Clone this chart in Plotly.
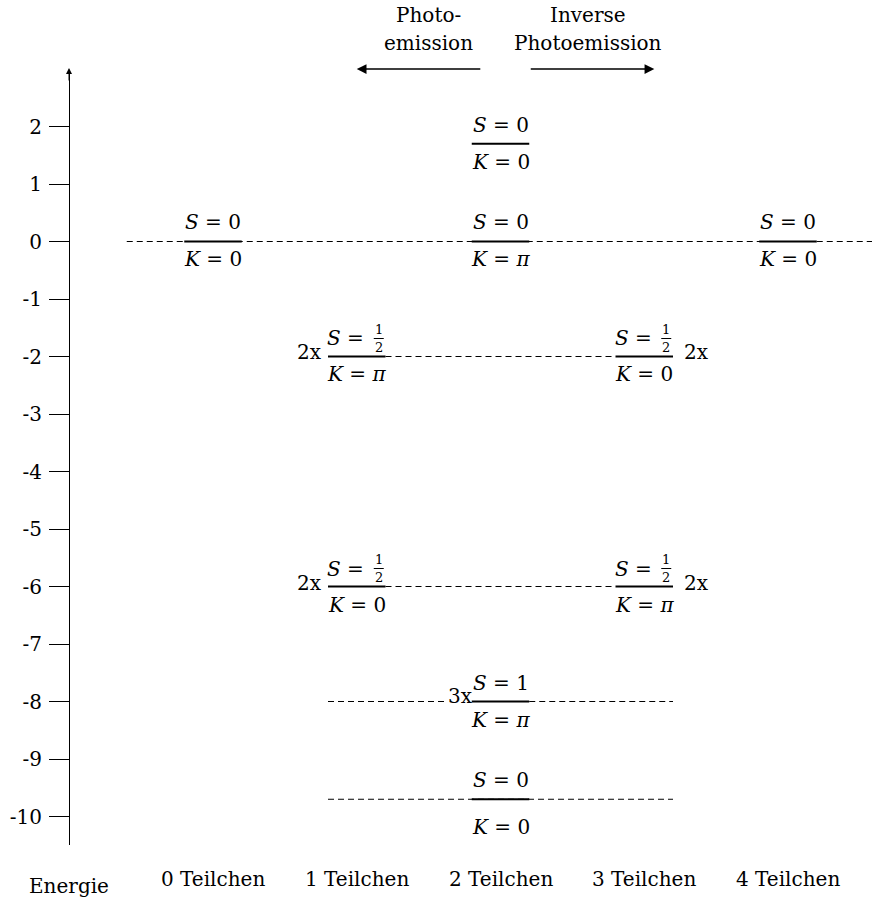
import plotly.graph_objects as go

# ---------------- data ----------------
particles = [0, 1, 2, 3, 4]
particle_labels = ["0 Teilchen", "1 Teilchen", "2 Teilchen", "3 Teilchen", "4 Teilchen"]

energy_ticks = [-10, -9, -8, -7, -6, -5, -4, -3, -2, -1, 0, 1, 2]
energy_ticktext = ["-10", "-9", "-8", "-7", "-6", "-5", "-4", "-3", "-2", "-1", "0", "1", "2"]

level_n = [0, 1, 1, 2, 2, 2, 2, 3, 3, 4]
level_E = [0, -2, -6, 1.7, 0, -8, -9.7, -2, -6, 0]
level_S = ["0", "1/2", "1/2", "0", "0", "1", "0", "1/2", "1/2", "0"]
level_K = ["0", "π", "0", "0", "π", "π", "0", "0", "π", "0"]
level_mult = ["", "2x", "2x", "", "", "3x", "", "2x", "2x", ""]

dash_E = [0, -2, -6, -8, -8, -9.7]
dash_x0 = [-0.6, 1.2, 1.2, 0.8, 2.2, 0.8]
dash_x1 = [4.7, 2.8, 2.8, 1.63, 3.2, 3.2]

# ---------------- style ----------------
FONT = "DejaVu Serif"
FS = 20
W, H = 872, 904
half = 0.2

fig = go.Figure()

# dashed connectors
dx, dy = [], []
for e, a, b in zip(dash_E, dash_x0, dash_x1):
    dx += [a, b, None]
    dy += [e, e, None]
fig.add_trace(go.Scatter(x=dx, y=dy, mode="lines",
                         line=dict(color="black", width=1, dash="6px,4px"),
                         hoverinfo="skip", showlegend=False))

# level bars
bx, by = [], []
for n, e in zip(level_n, level_E):
    bx += [n - half, n + half, None]
    by += [e, e, None]
fig.add_trace(go.Scatter(x=bx, y=by, mode="lines",
                         line=dict(color="black", width=2),
                         hoverinfo="skip", showlegend=False))


def A(**kw):
    d = dict(showarrow=False, xanchor="center", yanchor="middle",
             font=dict(family=FONT, size=FS, color="black"))
    d.update(kw)
    return d


ann = []
shapes = []
sp = " "
small = dict(family=FONT, size=13, color="black")
for n, e, s, k, m in zip(level_n, level_E, level_S, level_K, level_mult):
    if s == "1/2":
        ann.append(A(x=n, y=e, xref="x", yref="y", text=f"<i>S</i>{sp}={sp}",
                     xshift=-8, yshift=18))
        ann.append(A(x=n, y=e, xref="x", yref="y", text="1",
                     xshift=22, yshift=27, font=small))
        ann.append(A(x=n, y=e, xref="x", yref="y", text="2",
                     xshift=22, yshift=9, font=small))
        shapes.append(dict(type="line", xref="x", yref="y",
                           xsizemode="pixel", xanchor=n, x0=17, x1=27,
                           ysizemode="pixel", yanchor=e, y0=18, y1=18,
                           line=dict(color="black", width=1)))
    else:
        ann.append(A(x=n, y=e, xref="x", yref="y", text=f"<i>S</i>{sp}={sp}{s}",
                     yshift=19))
    kt = "<i>π</i>" if k == "π" else k
    kshift = -28 if e < -9 else -18
    ann.append(A(x=n, y=e, xref="x", yref="y", text=f"<i>K</i>{sp}={sp}{kt}",
                 yshift=kshift))
    if m:
        if n == 3:
            ann.append(A(x=n, y=e, xref="x", yref="y", text=m, xshift=52, yshift=4))
        elif n == 2:
            ann.append(A(x=n, y=e, xref="x", yref="y", text=m, xshift=-40, yshift=6))
        else:
            ann.append(A(x=n, y=e, xref="x", yref="y", text=m, xshift=-47, yshift=4))

# bottom labels
for n, lab in zip(particles, particle_labels):
    ann.append(A(x=n, y=(H - 879) / H, xref="x", yref="paper", text=lab))
ann.append(A(x=69 / W, y=(H - 886) / H, xref="paper", yref="paper", text="Energie"))

# top labels and arrows
ann.append(A(x=1.5, y=(H - 15) / H, xref="x", yref="paper", text="Photo-"))
ann.append(A(x=1.5, y=(H - 43) / H, xref="x", yref="paper", text="emission"))
ann.append(A(x=2.61, y=(H - 15) / H, xref="x", yref="paper", text="Inverse"))
ann.append(A(x=2.61, y=(H - 43) / H, xref="x", yref="paper", text="Photoemission"))
ann.append(dict(x=1.0, y=(H - 69) / H, xref="x", yref="paper", ax=1.87, axref="x",
                ay=0, ayref="pixel", text="", showarrow=True, arrowhead=2,
                arrowsize=1.3, arrowwidth=1.5, arrowcolor="black"))
ann.append(dict(x=3.07, y=(H - 69) / H, xref="x", yref="paper", ax=2.2, axref="x",
                ay=0, ayref="pixel", text="", showarrow=True, arrowhead=2,
                arrowsize=1.3, arrowwidth=1.5, arrowcolor="black"))
# arrowhead of energy axis
ann.append(dict(x=69 / W, y=(H - 68) / H, xref="paper", yref="paper", ax=0, ay=14,
                text="", showarrow=True, arrowhead=2, arrowsize=1.2, arrowwidth=1,
                arrowcolor="black"))

px_per_E = 57.5
y_zero_px = 241.5
fig.update_layout(
    width=W, height=H,
    margin=dict(l=0, r=0, t=0, b=0),
    paper_bgcolor="white", plot_bgcolor="white",
    showlegend=False,
    xaxis=dict(visible=False, range=[(0 - 213) / 143.75, (W - 213) / 143.75],
               domain=[0, 1]),
    yaxis=dict(domain=[(H - 845) / H, (H - 70) / H],
               range=[(y_zero_px - 845) / px_per_E, (y_zero_px - 70) / px_per_E],
               anchor="free", position=69 / W, side="left",
               showline=True, linecolor="black", linewidth=1,
               ticks="outside", ticklen=20, tickwidth=1, tickcolor="black",
               tickvals=energy_ticks, ticktext=energy_ticktext,
               tickfont=dict(family=FONT, size=FS, color="black"),
               ticklabelstandoff=3,
               showgrid=False, zeroline=False),
    annotations=ann,
    shapes=shapes,
    font=dict(family=FONT, size=FS, color="black"),
)

fig.write_html("out.html", config={"displayModeBar": False},
               post_script="document.body.style.margin='0';")
